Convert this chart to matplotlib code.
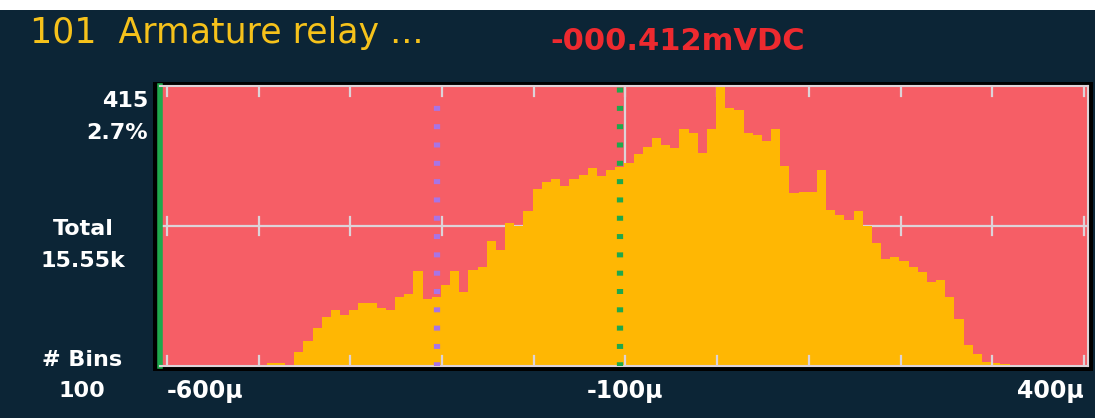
import matplotlib

matplotlib.use("Agg")
import matplotlib.pyplot as plt
from matplotlib.patches import Rectangle
import numpy as np

# histogram counts, 100 bins of 10 uV
counts = [0] * 11 + [4, 5, 0, 21,
          37, 56, 73, 83, 76, 83,
          93, 93, 86, 83, 103, 107,
          141, 100, 103, 120, 141, 110,
          143, 147, 185, 172, 212, 208,
          230, 263, 273, 277, 267, 277,
          283, 294, 281, 291, 295, 301,
          314, 325, 338, 328, 323, 351,
          346, 315, 351, 415, 383, 379,
          346, 342, 333, 351, 297, 257,
          258, 258, 291, 231, 224, 216,
          229, 208, 182, 158, 161, 155,
          147, 140, 124, 127, 103, 69,
          31, 18, 6, 4, 3]
counts = counts + [0] * (100 - len(counts))
bin_start = -601.2
bin_width = 10.0
tick_values = [-600, -100, 400]
tick_labels = ["-600\u03bc", "-100\u03bc", "400\u03bc"]
marker_purple = -306
marker_green = -105.5
title = "101  Armature relay ..."
reading = "-000.412mVDC"

NAVY = "#0c2536"
RED_BG = "#f65e66"
AMBER = "#ffb703"
GRID = "#ddd3d8"

fig = plt.figure(figsize=(10.95, 4.18), dpi=100)
fig.patch.set_facecolor("white")
fig.add_artist(Rectangle((0, 0), 1, 408 / 418, transform=fig.transFigure,
                         facecolor=NAVY, edgecolor="none", zorder=0))
fig.add_artist(Rectangle((153 / 1095, 47 / 418), 940 / 1095, 289 / 418,
                         transform=fig.transFigure, facecolor="black",
                         edgecolor="none", zorder=0))

ax = fig.add_axes([160 / 1095, 52 / 418, 928 / 1095, 280 / 418])
ax.set_facecolor(RED_BG)
edges = bin_start + bin_width * np.arange(len(counts) + 1)
ax.stairs(counts, edges, fill=True, color=AMBER, zorder=2)
ax.set_xlim(-607.6, 404.4)
ax.set_ylim(0, 415)

# graticule
ymid = 415 / 2
ax.axhline(ymid, color=GRID, lw=1.6, zorder=1)
ax.axvline(-100, color=GRID, lw=1.6, zorder=1)
for v in range(-600, 401, 100):
    ax.plot([v, v], [ymid - 14, ymid + 14], color=GRID, lw=1.6, zorder=1)
    ax.plot([v, v], [415, 400], color=GRID, lw=1.6, zorder=1)
    ax.plot([v, v], [0, 15], color=GRID, lw=1.6, zorder=3)

dots = (0.2, (0.8, 2.13))
ax.axvline(marker_purple, ymax=0.96, color="#a874e6", lw=4.5,
           linestyle=dots, dash_capstyle="butt", zorder=4)
ax.axvline(marker_green, color="#1fa84c", lw=4.5,
           linestyle=dots, dash_capstyle="butt", zorder=4)

for side in ["top", "bottom", "right"]:
    ax.spines[side].set_color(GRID)
    ax.spines[side].set_linewidth(1.5)
ax.spines["left"].set_color("#1fa84c")
ax.spines["left"].set_linewidth(4)
ax.set_xticks([])
ax.set_yticks([])

fam = ["DejaVu Sans"]
fig.text(30 / 1095, 1 - 33 / 418, title, color="#f6c21b", fontsize=25,
         family=fam, ha="left", va="center")
fig.text(550 / 1095, 1 - 42 / 418, reading, color="#ee2a2f", fontsize=22,
         family=fam, weight="bold", ha="left", va="center")

lab = dict(color="white", fontsize=16, family=fam, weight="bold")
fig.text(148 / 1095, 1 - 101 / 418, "415", ha="right", va="center", **lab)
fig.text(148 / 1095, 1 - 133 / 418, "2.7%", ha="right", va="center", **lab)
fig.text(83 / 1095, 1 - 229 / 418, "Total", ha="center", va="center", **lab)
fig.text(83 / 1095, 1 - 261 / 418, "15.55k", ha="center", va="center", **lab)
fig.text(82 / 1095, 1 - 360 / 418, "# Bins", ha="center", va="center", **lab)
fig.text(82 / 1095, 1 - 391 / 418, "100", ha="center", va="center", **lab)

aligns = ["left", "center", "right"]
for v, t, a in zip(tick_values, tick_labels, aligns):
    ax.text(v, -0.09, t, transform=ax.get_xaxis_transform(), ha=a,
            va="center", fontsize=17, color="white", family=fam,
            weight="bold")

fig.savefig("out.png", dpi=100, facecolor=fig.get_facecolor())
